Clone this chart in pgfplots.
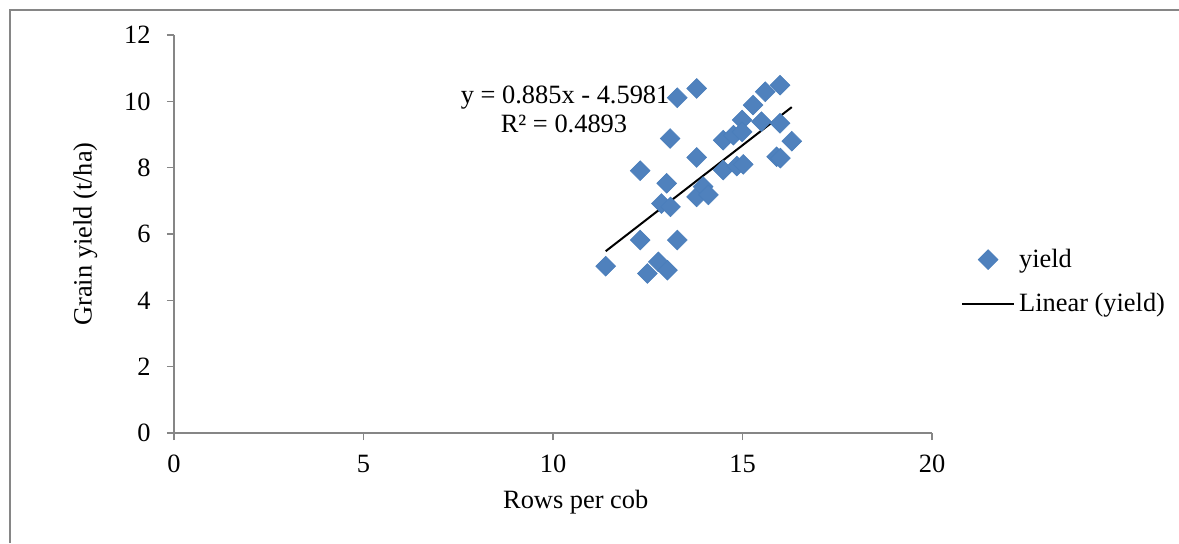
\documentclass[border=0pt]{standalone}
\usepackage{pgfplots}
\pgfplotsset{compat=1.18}
\usepackage{fontspec}
\setmainfont{Liberation Serif}
\definecolor{mk}{HTML}{4F81BD}
\definecolor{mkd}{HTML}{4A7EBB}
\definecolor{ax}{HTML}{868686}
\begin{document}
\begin{tikzpicture}
\useasboundingbox (0,0) rectangle (589.5pt,271.5pt);
\fill[white] (0,0) rectangle (589.5pt,271.5pt);
\draw[ax, line width=0.6pt] (5pt,0) -- (5pt,266.5pt) -- (589.5pt,266.5pt);
\begin{axis}[
  at={(87pt,55pt)}, anchor=south west,
  x=18.95pt, y=16.58pt,
  xmin=0, xmax=20, ymin=0, ymax=12,
  scale only axis,
  axis lines=left,
  axis line style={ax, line width=0.6pt, -},
  xtick={0,5,10,15,20}, ytick={0,2,4,6,8,10,12},
  tick align=outside, tick style={ax, line width=0.6pt},
  major tick length=3.5pt,
  font=\fontsize{13.2}{15.8}\selectfont,
  /pgf/number format/assume math mode=true,
  xticklabel style={inner ysep=3pt, yshift=-4.5pt},
  yticklabel style={inner xsep=2pt, xshift=-6pt},
  xlabel={Rows per cob},
  ylabel={Grain yield (t/ha)},
  xlabel style={at={(axis description cs:0.53,-0.175)}, anchor=center},
  ylabel style={at={(axis description cs:-0.117,0.5)}, anchor=center},
  legend style={at={(rel axis cs:1.03,0.38)}, anchor=west, draw=none, fill=none,
    row sep=7.5pt, nodes={inner xsep=2pt, anchor=west}},
  legend cell align=left,
  clip=false,
]
\addplot[only marks, mark=square*, mark size=3.5pt,
  mark options={rotate=45, fill=mk, draw=mkd, line width=0.3pt},
  legend image code/.code={\draw[mark repeat=2,mark phase=2] plot coordinates {(0pt,0pt)(13pt,0pt)(26pt,0pt)};}]
coordinates {
(11.39,5.03) (12.3,7.91) (12.3,5.82) (12.49,4.81) (12.78,5.16) (13.02,4.91)
(13.0,7.53) (12.86,6.92) (13.1,6.82) (13.28,5.82) (13.09,8.88) (13.28,10.11)
(13.79,10.39) (13.79,8.31) (13.79,7.12) (13.96,7.43) (14.1,7.18) (14.49,8.83)
(14.49,7.93) (14.76,8.98) (14.85,8.05) (15.02,8.1) (14.99,9.44) (14.99,9.08)
(15.28,9.89) (15.5,9.39) (15.6,10.29) (15.99,10.49) (15.99,9.34) (15.9,8.33)
(16.0,8.29) (16.3,8.8)
};
\addlegendentry{yield}
\addplot[black, line width=1pt,
  legend image code/.code={\draw[black, line width=1pt] (0pt,0pt) -- (26pt,0pt);}]
coordinates {(11.39,5.4822) (16.3,9.8274)};
\addlegendentry{Linear (yield)}
\node[anchor=center] at (axis cs:10.32,10.12) {y = 0.885x - 4.5981};
\node[anchor=center] at (axis cs:10.29,9.32) {R² = 0.4893};
\end{axis}
\end{tikzpicture}
\end{document}
